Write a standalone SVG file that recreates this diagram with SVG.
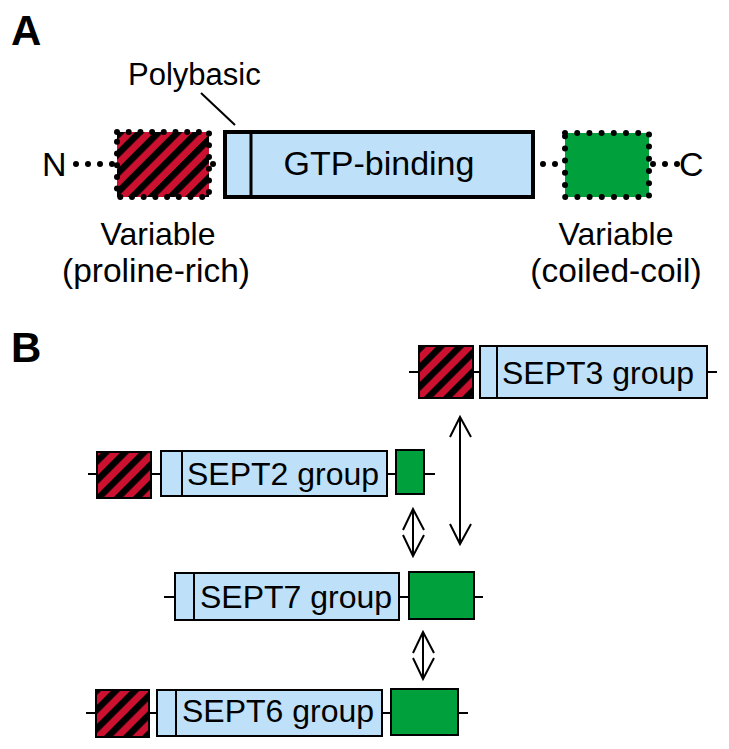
<svg xmlns="http://www.w3.org/2000/svg" width="729" height="749" viewBox="0 0 729 749">
<defs>
<pattern id="hatch" width="13.5" height="13.5" patternUnits="userSpaceOnUse" patternTransform="rotate(45)">
<rect width="13.5" height="13.5" fill="#cc1030"/>
<rect width="6.5" height="13.5" fill="#000"/>
</pattern>
</defs>
<style>
text{font-family:"Liberation Sans",Arial,sans-serif;fill:#000}
.lbl{font-weight:bold;font-size:42px}
.t{font-size:32px}
.blue{fill:#bee0f8;stroke:#000}
.green{fill:#00a03c;stroke:#000}
.red{fill:url(#hatch);stroke:#000}
.dots{fill:none;stroke:#000;stroke-width:6;stroke-linecap:round;stroke-dasharray:0 12}
.ln{stroke:#000;stroke-width:2;fill:none}
.arr{stroke:#000;stroke-width:2;fill:none;stroke-linejoin:miter}
</style>
<text class="lbl" x="11" y="45">A</text>
<text class="lbl" x="11" y="362">B</text>

<g id="partA">
<g id="dotlines">
<line class="dots" x1="76" y1="164" x2="113" y2="164"/>
<line class="dots" x1="201" y1="164" x2="214" y2="164"/>
<line class="dots" x1="543" y1="164" x2="556" y2="164"/>
<line class="dots" x1="653" y1="164" x2="678" y2="164"/>
</g>
<g id="a-n"><text class="t" x="42" y="176" style="font-size:34px">N</text></g>
<g id="a-red">
<rect x="117" y="132" width="92" height="65" fill="url(#hatch)"/>
<rect class="dots" x="117" y="132" width="92" height="65" style="stroke-dasharray:0 11.7"/>
</g>
<g id="a-blue">
<rect class="blue" x="225" y="132" width="308" height="65" stroke-width="4"/>
<line x1="251" y1="132" x2="251" y2="197" stroke="#000" stroke-width="3"/>
<text class="t" x="379" y="175" text-anchor="middle" style="font-size:34px">GTP-binding</text>
</g>
<g id="a-green">
<rect x="565" y="133" width="84" height="64" fill="#00a03c"/>
<rect class="dots" x="565" y="133" width="84" height="64" style="stroke-dasharray:0 12.2"/>
</g>
<g id="a-c"><text class="t" x="679" y="176" style="font-size:34px">C</text></g>
<g id="a-poly">
<text class="t" x="128" y="85" style="font-size:31px">Polybasic</text>
<line class="ln" x1="201" y1="93" x2="235" y2="125"/>
</g>
<g id="a-var1">
<text class="t" x="158" y="245" text-anchor="middle" style="font-size:32px">Variable</text>
<text class="t" x="156" y="282" text-anchor="middle" style="font-size:33.5px">(proline-rich)</text>
</g>
<g id="a-var2">
<text class="t" x="616" y="245" text-anchor="middle" style="font-size:32px">Variable</text>
<text class="t" x="616" y="282" text-anchor="middle" style="font-size:33.5px">(coiled-coil)</text>
</g>
</g>

<g id="connectors">
<line class="ln" x1="409" y1="372" x2="717" y2="372"/>
<line class="ln" x1="88" y1="474" x2="435" y2="474"/>
<line class="ln" x1="164" y1="597" x2="483" y2="597"/>
<line class="ln" x1="86" y1="713" x2="468" y2="713"/>
<g id="arrow-3-7">
<line class="arr" x1="460" y1="417" x2="460" y2="544"/>
<polyline class="arr" points="450,437 460,417 471,437"/>
<polyline class="arr" points="450,524 460,544 471,524"/>
</g>
<g id="arrow-2-7">
<line class="arr" x1="413" y1="509" x2="413" y2="556"/>
<polyline class="arr" points="403,530 413,509 424,530"/>
<polyline class="arr" points="403,535 413,556 424,535"/>
</g>
<g id="arrow-7-6">
<line class="arr" x1="423" y1="632" x2="423" y2="679"/>
<polyline class="arr" points="413,653 423,632 434,653"/>
<polyline class="arr" points="413,658 423,679 434,658"/>
</g>
</g>

<g id="sept3">
<rect class="red" x="419" y="346" width="54" height="52" stroke-width="2"/>
<rect class="blue" x="480" y="346" width="227" height="52" stroke-width="2"/>
<line class="ln" x1="497" y1="346" x2="497" y2="398"/>
<text class="t" x="502" y="384">SEPT3 group</text>
</g>
<g id="sept2">
<rect class="red" x="97" y="452" width="54" height="46" stroke-width="2"/>
<rect class="blue" x="161" y="451" width="226" height="45" stroke-width="2"/>
<line class="ln" x1="182" y1="451" x2="182" y2="496"/>
<text class="t" x="187" y="485">SEPT2 group</text>
<rect class="green" x="396" y="450" width="28" height="44" stroke-width="2"/>
</g>
<g id="sept7">
<rect class="blue" x="175" y="573" width="224" height="47" stroke-width="2"/>
<line class="ln" x1="194" y1="573" x2="194" y2="620"/>
<text class="t" x="200" y="608">SEPT7 group</text>
<rect class="green" x="409" y="572" width="65" height="47" stroke-width="2"/>
</g>
<g id="sept6">
<rect class="red" x="96" y="690" width="53" height="47" stroke-width="2"/>
<rect class="blue" x="157" y="690" width="225" height="46" stroke-width="2"/>
<line class="ln" x1="176" y1="690" x2="176" y2="736"/>
<text class="t" x="182" y="722">SEPT6 group</text>
<rect class="green" x="391" y="689" width="67" height="46" stroke-width="2"/>
</g>
</svg>
